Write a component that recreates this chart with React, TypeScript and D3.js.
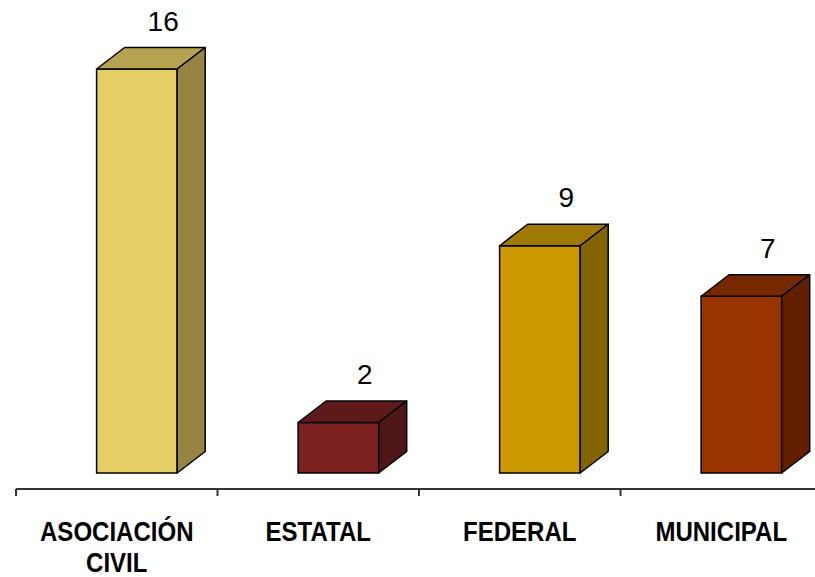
import { useRef, useEffect } from 'react'
import * as d3 from 'd3'

const categories = ['ASOCIACIÓN CIVIL', 'ESTATAL', 'FEDERAL', 'MUNICIPAL']
const values = [16, 2, 9, 7]
const frontColors = ['#E6CF66', '#7D2020', '#CC9900', '#993300']
const topColors = ['#B5A352', '#5E1A1A', '#A07A00', '#762800']
const sideColors = ['#988442', '#4E1616', '#826400', '#612100']

const App: React.FC = () => {
  const chartRef = useRef<SVGSVGElement>(null)

  useEffect(() => {
    if (!chartRef.current) return

    const width = 815
    const height = 577
    const dx = 28
    const dy = 21.5

    const svg = d3.select(chartRef.current)
    svg.selectAll('*').remove()
    svg.attr('width', width).attr('height', height)

    const x = d3
      .scaleBand<string>()
      .domain(categories)
      .range([16, 16 + 201.5 * categories.length])

    const y = d3.scaleLinear().domain([0, 16]).range([473, 69])

    const bw = x.bandwidth()
    const bars = svg
      .append('g')
      .selectAll('g')
      .data(values)
      .enter()
      .append('g')

    const left = (i: number) => (x(categories[i]) as number) + bw * 0.4
    const right = (i: number) => (x(categories[i]) as number) + bw * 0.8

    // front face
    bars
      .append('rect')
      .attr('x', (_, i) => left(i))
      .attr('y', (d) => y(d))
      .attr('width', bw * 0.4)
      .attr('height', (d) => y(0) - y(d))
      .attr('fill', (_, i) => frontColors[i])
      .attr('stroke', '#000')
      .attr('stroke-width', 1.5)

    // top face
    bars
      .append('path')
      .attr('d', (d, i) => {
        const t = y(d)
        return `M${left(i)},${t}L${left(i) + dx},${t - dy}L${right(i) + dx},${t - dy}L${right(i)},${t}Z`
      })
      .attr('fill', (_, i) => topColors[i])
      .attr('stroke', '#000')
      .attr('stroke-width', 1.5)
      .attr('stroke-linejoin', 'round')

    // side face
    bars
      .append('path')
      .attr('d', (d, i) => {
        const t = y(d)
        const b = y(0)
        return `M${right(i)},${t}L${right(i) + dx},${t - dy}L${right(i) + dx},${b - dy}L${right(i)},${b}Z`
      })
      .attr('fill', (_, i) => sideColors[i])
      .attr('stroke', '#000')
      .attr('stroke-width', 1.5)
      .attr('stroke-linejoin', 'round')

    // value labels
    bars
      .append('text')
      .attr('x', (_, i) => right(i) - 14)
      .attr('y', (d) => y(d) - dy - 17)
      .attr('text-anchor', 'middle')
      .attr('font-family', '"Liberation Sans", Arial, sans-serif')
      .attr('font-size', 28)
      .attr('fill', '#000')
      .text((d) => d)

    // axis
    const axis = svg.append('g').attr('transform', 'translate(0,489)')
    axis
      .append('line')
      .attr('x1', 16)
      .attr('x2', width)
      .attr('stroke', '#333')
      .attr('stroke-width', 2)
    axis
      .selectAll('line.tick')
      .data(categories)
      .enter()
      .append('line')
      .attr('class', 'tick')
      .attr('x1', (d) => x(d) as number)
      .attr('x2', (d) => x(d) as number)
      .attr('y1', 0)
      .attr('y2', 7)
      .attr('stroke', '#333')
      .attr('stroke-width', 2)

    // category labels, squeezed horizontally to mimic a condensed face
    const labels = svg
      .append('g')
      .selectAll('g')
      .data(categories)
      .enter()
      .append('g')
      .attr('transform', (d) => `translate(${(x(d) as number) + bw / 2},0) scale(0.89,1)`)
      .append('text')
      .attr('x', 0)
      .attr('y', 541)
      .attr('text-anchor', 'middle')
      .attr('font-family', '"Liberation Sans", Arial, sans-serif')
      .attr('font-weight', 'bold')
      .attr('font-size', 27)
      .attr('fill', '#000')

    labels.each(function (d) {
      const words = d.length > 12 ? d.split(' ') : [d]
      const t = d3.select(this)
      words.forEach((w, k) => {
        t.append('tspan')
          .attr('x', 0)
          .attr('dy', k === 0 ? 0 : 31.5)
          .text(w)
      })
    })
  }, [])

  return (
    <div style={{ position: 'absolute', left: 0, top: 0 }}>
      <svg ref={chartRef} style={{ display: 'block' }} />
    </div>
  )
}

export default App
